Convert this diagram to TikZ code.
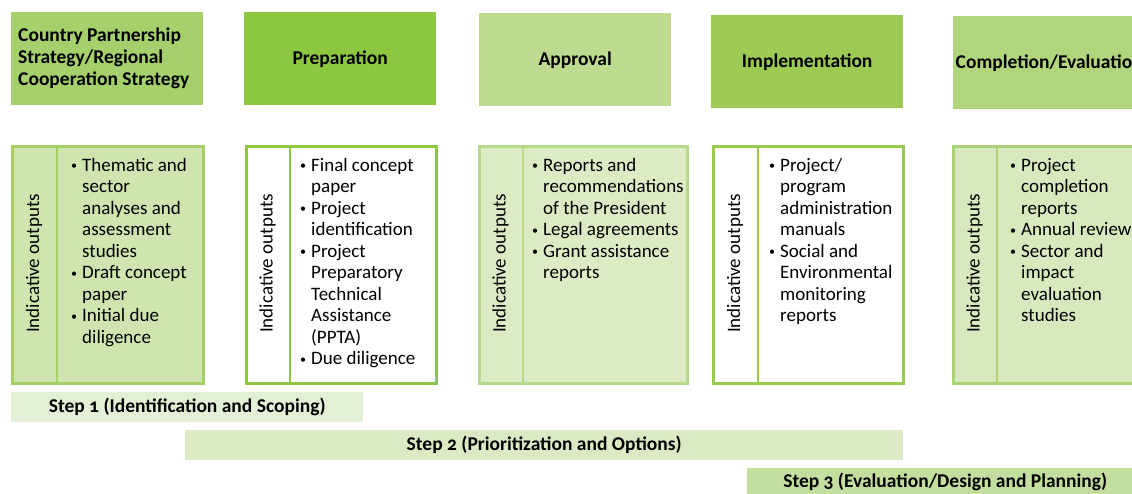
\documentclass[tikz,border=0pt]{standalone}
\usepackage{fontspec}
\setmainfont{Carlito}[Numbers=OldStyle]
\definecolor{cpsTop}{HTML}{A6D06B}
\definecolor{prepTop}{HTML}{8DC63F}
\definecolor{apprTop}{HTML}{BDDB8E}
\definecolor{implTop}{HTML}{9CCA52}
\definecolor{compTop}{HTML}{B1D57D}
\definecolor{fillA}{HTML}{CFE4AE}
\definecolor{lineA}{HTML}{A3CF63}
\definecolor{lineB}{HTML}{8DC63F}
\definecolor{fillC}{HTML}{DCEBC4}
\definecolor{lineC}{HTML}{B6D98C}
\definecolor{lineD}{HTML}{99CA4E}
\definecolor{fillE}{HTML}{D7E9BD}
\definecolor{lineE}{HTML}{ABD275}
\definecolor{stepA}{HTML}{E3F0D6}
\definecolor{stepB}{HTML}{DBEAC4}
\definecolor{stepC}{HTML}{C3DF9F}
\newcommand\itm{\makebox[12pt][l]{\hspace*{1pt}\raisebox{1.5pt}{\fontsize{12}{12}\selectfont•}}}
\newcommand\ind{\hspace*{12pt}}
\begin{document}
\begin{tikzpicture}[x=1pt,y=-1pt,
  hdr/.style={inner sep=0pt, minimum width=192pt, minimum height=93pt, anchor=north west,
    align=center, font=\bfseries\fontsize{19.5}{22}\selectfont},
  outbox/.style={inner sep=0pt, anchor=north west, minimum width=#1, minimum height=237pt, line width=2.5pt},
  divider/.style={line width=2.5pt},
  vlabel/.style={rotate=90, inner sep=0pt, font=\fontsize{19}{21.5}\selectfont},
  blist/.style={inner sep=0pt, anchor=north west, align=left, font=\fontsize{19}{21.5}\selectfont},
  stepbar/.style={inner sep=0pt, anchor=north west, font=\bfseries\fontsize{19.5}{20}\selectfont},
  hdrtext/.style={inner sep=0pt, anchor=west, align=left, font=\bfseries\fontsize{19.5}{22}\selectfont}
]
\useasboundingbox (0,0) rectangle (1132,493);

% header boxes
\node[hdr, fill=cpsTop] (h1) at (11,12) {};
\node[hdrtext] (h1t) at (18,58.5) {Country Partnership\\Strategy/Regional\\Cooperation Strategy};
\node[hdr, fill=prepTop] (h2) at (244,12) {Preparation};
\node[hdr, fill=apprTop] (h3) at (479,13) {Approval};
\node[hdr, fill=implTop] (h4) at (711,15) {Implementation};
\node[hdr, fill=compTop] (h5) at (953,16) {Completion/Evaluation};

% output boxes
\node[outbox=191pt, fill=fillA, draw=lineA] (b1) at (11,145) {};
\node[outbox=190pt, fill=white, draw=lineB] (b2) at (245,145) {};
\node[outbox=208pt, fill=fillC, draw=lineC] (b3) at (478,145) {};
\node[outbox=190pt, fill=white, draw=lineD] (b4) at (712,145) {};
\node[outbox=200pt, fill=fillE, draw=lineE] (b5) at (952,145) {};

% dividers
\coordinate (d1t) at (57,145);  \coordinate (d1b) at (57,382);
\coordinate (d2t) at (290,145); \coordinate (d2b) at (290,382);
\coordinate (d3t) at (523,145); \coordinate (d3b) at (523,382);
\coordinate (d4t) at (758,145); \coordinate (d4b) at (758,382);
\coordinate (d5t) at (997,145); \coordinate (d5b) at (997,382);
\draw[divider, lineA] (d1t) -- (d1b);
\draw[divider, lineB] (d2t) -- (d2b);
\draw[divider, lineC] (d3t) -- (d3b);
\draw[divider, lineD] (d4t) -- (d4b);
\draw[divider, lineE] (d5t) -- (d5b);

% rotated labels
\node[vlabel] (v1) at (34,263.5) {Indicative outputs};
\node[vlabel] (v2) at (267.5,263.5) {Indicative outputs};
\node[vlabel] (v3) at (500.5,263.5) {Indicative outputs};
\node[vlabel] (v4) at (735,263.5) {Indicative outputs};
\node[vlabel] (v5) at (974.5,263.5) {Indicative outputs};

% bullet lists
\node[blist] (l1) at (70,158) {\itm Thematic and\\\ind sector\\\ind analyses and\\\ind assessment\\\ind studies\\\itm Draft concept\\\ind paper\\\itm Initial due\\\ind diligence};
\node[blist] (l2) at (299,158) {\itm Final concept\\\ind paper\\\itm Project\\\ind identification\\\itm Project\\\ind Preparatory\\\ind Technical\\\ind Assistance\\\ind (PPTA)\\\itm Due diligence};
\node[blist] (l3) at (531,158) {\itm Reports and\\\ind recommendations\\\ind of the President\\\itm Legal agreements\\\itm Grant assistance\\\ind reports};
\node[blist] (l4) at (768,158) {\itm Project/\\\ind program\\\ind administration\\\ind manuals\\\itm Social and\\\ind Environmental\\\ind monitoring\\\ind reports};
\node[blist] (l5) at (1009,158) {\itm Project\\\ind completion\\\ind reports\\\itm Annual review\\\itm Sector and\\\ind impact\\\ind evaluation\\\ind studies};

% step bars
\node[stepbar, fill=stepA, minimum width=352pt, minimum height=30pt] (s1) at (11,392) {Step 1 (Identification and Scoping)};
\node[stepbar, fill=stepB, minimum width=718pt, minimum height=30pt] (s2) at (185,430) {Step 2 (Prioritization and Options)};
\node[stepbar, fill=stepC, minimum width=396pt, minimum height=28pt] (s3) at (747,468) {Step 3 (Evaluation/Design and Planning)};
\end{tikzpicture}
\end{document}
